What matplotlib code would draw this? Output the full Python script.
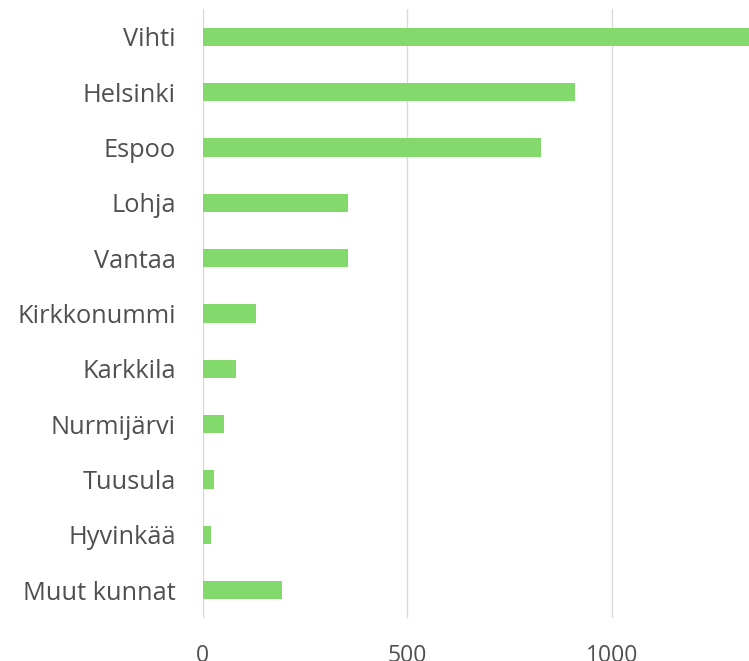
import matplotlib
matplotlib.use("Agg")
import matplotlib.pyplot as plt

categories = ["Vihti", "Helsinki", "Espoo", "Lohja", "Vantaa", "Kirkkonummi",
              "Karkkila", "Nurmijärvi", "Tuusula", "Hyvinkää", "Muut kunnat"]
values = [1340, 910, 827, 355, 355, 131, 83, 53, 29, 20, 193]
xticks = [0, 500, 1000]

plt.rcParams['font.family'] = ['Open Sans', 'DejaVu Sans']

fig = plt.figure(figsize=(7.49, 6.61), dpi=100)
ax = fig.add_axes([202.5/749, 1-618/661, 1-202.5/749, (618-9)/661])

y = list(range(len(categories)))
ax.barh(y, values, height=0.33, color="#84d96c", zorder=3)
ax.set_ylim(len(categories)-0.5, -0.5)
ax.set_xlim(0, 1335)
ax.set_yticks(y)
ax.set_yticklabels(categories, fontsize=18.3, color="#505050")
ax.set_xticks(xticks)
ax.set_xticklabels([str(t) for t in xticks], fontsize=16.5, color="#505050")
ax.tick_params(axis='both', length=0)
ax.tick_params(axis='y', pad=19)
ax.tick_params(axis='x', pad=19)
ax.grid(axis='x', color="#d9d9d9", linewidth=1, zorder=0)
for s in ax.spines.values():
    s.set_visible(False)

fig.savefig("out.png", dpi=100)
